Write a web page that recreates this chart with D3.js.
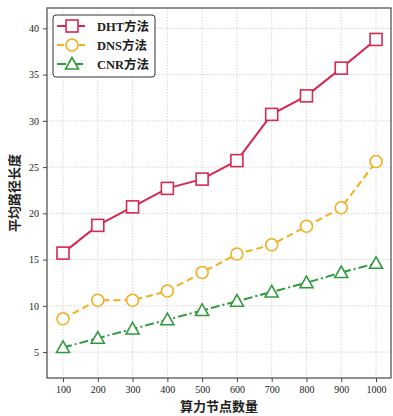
<!DOCTYPE html>
<html>
<head>
<meta charset="utf-8">
<script src="https://cdn.jsdelivr.net/npm/d3@7"></script>
<style>
  body { margin: 0; background: #fff; }
  text { font-family: "Liberation Serif", "Noto Sans CJK SC", serif; fill: #222; }
</style>
</head>
<body>
<script>
// data
var nodes = [100, 200, 300, 400, 500, 600, 700, 800, 900, 1000];
var dht = [15.7, 18.7, 20.7, 22.7, 23.7, 25.7, 30.7, 32.7, 35.7, 38.8];
var dns = [8.6, 10.6, 10.6, 11.6, 13.6, 15.6, 16.6, 18.6, 20.6, 25.6];
var cnr = [5.5, 6.5, 7.5, 8.5, 9.5, 10.5, 11.5, 12.5, 13.6, 14.6];
var yTicks = [5, 10, 15, 20, 25, 30, 35, 40];
var seriesNames = ["DHT方法", "DNS方法", "CNR方法"];

var W = 393, H = 416;
var margin = { top: 8, right: 2, bottom: 38, left: 47 };
var width = W - margin.left - margin.right,
    height = H - margin.top - margin.bottom;

var svg = d3.select("body").append("svg")
    .attr("width", W)
    .attr("height", H);
var g = svg.append("g")
    .attr("transform", "translate(" + margin.left + "," + margin.top + ")");

var xScale = d3.scaleLinear().domain([54, 1043]).range([0, width]);
var yScale = d3.scaleLinear().domain([2.2, 42.2]).range([height, 0]);

// grid
g.append("g").selectAll("line").data(nodes).enter().append("line")
    .attr("x1", d => xScale(d)).attr("x2", d => xScale(d))
    .attr("y1", 0).attr("y2", height)
    .attr("stroke", "#ccc").attr("stroke-width", 0.8).attr("stroke-dasharray", "1.5,1.5");
g.append("g").selectAll("line").data(yTicks).enter().append("line")
    .attr("y1", d => yScale(d)).attr("y2", d => yScale(d))
    .attr("x1", 0).attr("x2", width)
    .attr("stroke", "#ccc").attr("stroke-width", 0.8).attr("stroke-dasharray", "1.5,1.5");

// axes
var xAxis = d3.axisBottom(xScale).tickValues(nodes).tickFormat(d3.format("d")).tickSize(4).tickPadding(4);
var yAxis = d3.axisLeft(yScale).tickValues(yTicks).tickFormat(d3.format("d")).tickSize(4).tickPadding(4);
var gx = g.append("g").attr("transform", "translate(0," + height + ")").call(xAxis);
var gy = g.append("g").call(yAxis);
[gx, gy].forEach(function (a) {
  a.select(".domain").remove();
  a.selectAll("line").attr("stroke", "#444").attr("stroke-width", 1);
  a.selectAll("text").style("font-size", "10px").style("font-family", "Liberation Serif").attr("fill", "#222");
});

// frame
g.append("rect").attr("width", width).attr("height", height)
    .attr("fill", "none").attr("stroke", "#555").attr("stroke-width", 1.3);

var series = [
  { name: seriesNames[0], values: dht, color: "#d42a52", dash: null, marker: "square" },
  { name: seriesNames[1], values: dns, color: "#f5ac1e", dash: "7,4", marker: "circle" },
  { name: seriesNames[2], values: cnr, color: "#2f9a3c", dash: "9,3,2,3", marker: "triangle" }
];

function drawMarker(sel, type, color) {
  if (type === "square") {
    sel.append("rect").attr("x", -6).attr("y", -6).attr("width", 12).attr("height", 12)
      .attr("fill", "#fff").attr("stroke", color).attr("stroke-width", 1.6);
  } else if (type === "circle") {
    sel.append("circle").attr("r", 6)
      .attr("fill", "#fff").attr("stroke", color).attr("stroke-width", 1.6);
  } else {
    sel.append("path").attr("d", "M0,-6.5L6.5,5L-6.5,5Z")
      .attr("fill", "#fff").attr("stroke", color).attr("stroke-width", 1.6);
  }
}

var line = d3.line().x((d, i) => xScale(nodes[i])).y(d => yScale(d));

series.forEach(function (s) {
  g.append("path").datum(s.values)
    .attr("d", line)
    .attr("fill", "none")
    .attr("stroke", s.color)
    .attr("stroke-width", 2)
    .attr("stroke-dasharray", s.dash);
  s.values.forEach(function (v, i) {
    var m = g.append("g").attr("transform", "translate(" + xScale(nodes[i]) + "," + yScale(v) + ")");
    drawMarker(m, s.marker, s.color);
  });
});

// legend
var leg = g.append("g").attr("transform", "translate(6,7)");
leg.append("rect").attr("width", 102).attr("height", 62).attr("rx", 3)
  .attr("fill", "#fff").attr("stroke", "#333").attr("stroke-width", 1);
series.forEach(function (s, i) {
  var row = leg.append("g").attr("transform", "translate(0," + (11 + i * 19) + ")");
  row.append("line").attr("x1", 4).attr("x2", 32).attr("y1", 0).attr("y2", 0)
    .attr("stroke", s.color).attr("stroke-width", 2).attr("stroke-dasharray", s.dash);
  var m = row.append("g").attr("transform", "translate(19,0)");
  drawMarker(m, s.marker, s.color);
  row.append("text").attr("x", 44).attr("y", 4.5)
    .style("font-size", "12.5px").style("font-weight", "bold")
    .text(s.name);
});

// axis titles
svg.append("text")
  .attr("x", margin.left + width / 2).attr("y", 411)
  .attr("text-anchor", "middle")
  .style("font-size", "13px").style("font-weight", "bold")
  .text("算力节点数量");
svg.append("text")
  .attr("transform", "translate(19," + (margin.top + height / 2) + ") rotate(-90)")
  .attr("text-anchor", "middle")
  .style("font-size", "13px").style("font-weight", "bold")
  .text("平均路径长度");
</script>
</body>
</html>
